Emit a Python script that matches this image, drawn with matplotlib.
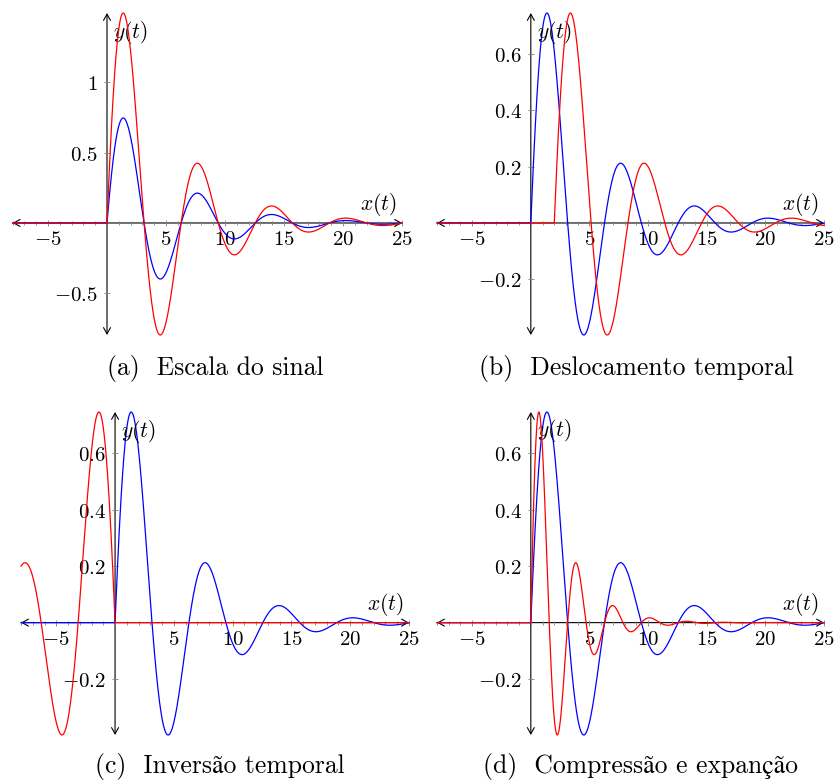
import numpy as np
import matplotlib.pyplot as plt
from matplotlib.ticker import MultipleLocator

plt.rcParams['mathtext.fontset'] = 'cm'

# sinal base: y(t) = exp(-decay t) sin(freq t), t >= 0
decay = 0.2
freq = 1.0
t_min, t_max = -8, 25
t = np.linspace(t_min, t_max, 4000)

scale_a = 2.0      # (a) escala
shift_b = 2.0      # (b) deslocamento
compress_d = 2.0   # (d) compressao

captions = ['(a)  Escala do sinal', '(b)  Deslocamento temporal',
            '(c)  Inversão temporal', '(d)  Compressão e expanção']
xticks = [-5, 5, 10, 15, 20, 25]
yticks_a = [-0.5, 0.5, 1]
yticks_bcd = [-0.2, 0.2, 0.4, 0.6]


def y(tt):
    tt = np.asarray(tt)
    return np.where(tt >= 0, np.exp(-decay*tt)*np.sin(freq*tt), 0.0)


blue = y(t)
reds = [scale_a*y(t), y(t - shift_b), y(-t), y(compress_d*t)]
yticks = [yticks_a, yticks_bcd, yticks_bcd, yticks_bcd]

W, H = 838, 783
# axes boxes in pixels: left, top, right, bottom
boxes = [(12.6, 13, 402, 335), (437, 13, 824, 335),
         (21, 412, 409, 735), (437, 412, 824, 735)]
cap_pos = [(215, 368), (636, 368), (220, 767), (640, 767)]

fig = plt.figure(figsize=(W/100, H/100), dpi=100)

for i in range(4):
    l, tp, r, b = boxes[i]
    ax = fig.add_axes([l/W, 1-b/H, (r-l)/W, (b-tp)/H])
    red = reds[i]
    ymin = min(blue.min(), red.min())
    ymax = max(blue.max(), red.max())

    ax.plot(t, blue, color='blue', lw=0.9, zorder=3, clip_on=False)
    ax.plot(t, red, color='red', lw=0.9, zorder=4, clip_on=False)

    ax.set_xlim(t_min, t_max)
    ax.set_ylim(ymin, ymax)
    for s in ax.spines.values():
        s.set_visible(False)
    ax.spines['bottom'].set_position(('data', 0))
    ax.spines['left'].set_position(('data', 0))

    arr = dict(arrowstyle='<->,head_length=0.45,head_width=0.25', lw=0.8,
               color='black', shrinkA=0, shrinkB=0)
    ax.annotate('', xy=(t_max, 0), xytext=(t_min, 0), arrowprops=arr,
                annotation_clip=False, zorder=1)
    ax.annotate('', xy=(0, ymax), xytext=(0, ymin), arrowprops=arr,
                annotation_clip=False, zorder=1)

    ax.set_xticks(xticks)
    ax.set_xticklabels(['$%g$' % v for v in xticks])
    ax.xaxis.set_minor_locator(MultipleLocator(1))
    ax.set_yticks(yticks[i])
    ax.set_yticklabels(['$%g$' % v for v in yticks[i]])
    ax.tick_params(axis='both', which='major', direction='inout', length=5,
                   width=0.6, color='0.5', labelsize=15, pad=4)
    ax.tick_params(axis='x', which='minor', direction='inout', length=3,
                   width=0.6, color='0.5')
    ax.tick_params(axis='x', pad=2)
    ax.set_facecolor('none')

    ax.annotate('$y(t)$', xy=(0, ymax), xytext=(6, -19),
                textcoords='offset pixels', ha='left', va='center',
                fontsize=15.5, annotation_clip=False)
    ax.annotate('$x(t)$', xy=(t_max, 0), xytext=(-24, 18),
                textcoords='offset pixels', ha='center', va='center',
                fontsize=15.5, annotation_clip=False)

    cx, cy = cap_pos[i]
    fig.text(cx/W, 1-cy/H, captions[i], ha='center', va='center',
             fontsize=18.5, family=['cmr10', 'STIXGeneral'])

fig.savefig('out.png', dpi=100)
